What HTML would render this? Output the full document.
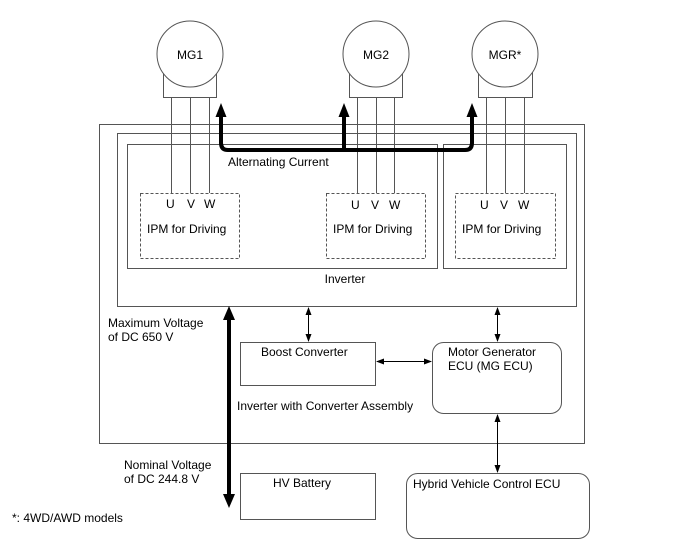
<!DOCTYPE html>
<html><head><meta charset="utf-8"><style>
html,body{margin:0;padding:0;background:#fff;}
svg{display:block;}
text{font-family:"Liberation Sans",Arial,sans-serif;font-size:12px;fill:#000;}
</style></head><body>
<svg width="688" height="560" viewBox="0 0 688 560" xmlns="http://www.w3.org/2000/svg">
<defs>
<marker id="a" markerWidth="8" markerHeight="8" refX="7" refY="4" orient="auto-start-reverse" markerUnits="userSpaceOnUse"><path d="M0,1 L8,4 L0,7 z" fill="#000"/></marker>
</defs>
<g fill="none" stroke="#555" stroke-width="1">
<!-- motors -->
<rect x="163.5" y="70.5" width="53" height="27" fill="#fff"/>
<circle cx="190" cy="54" r="33" fill="#fff"/>
<rect x="349.5" y="70.5" width="53" height="27" fill="#fff"/>
<circle cx="376" cy="54" r="33" fill="#fff"/>
<rect x="478.5" y="70.5" width="54" height="27" fill="#fff"/>
<circle cx="505" cy="54" r="33" fill="#fff"/>
<!-- boxes -->
<rect x="99.5" y="124.5" width="485" height="319"/>
<rect x="117.5" y="133.5" width="459" height="173"/>
<rect x="127.5" y="144.5" width="310" height="124"/>
<rect x="443.5" y="144.5" width="123" height="124"/>
<g stroke-dasharray="3,2">
<rect x="140.5" y="193.5" width="99" height="65"/>
<rect x="326.5" y="193.5" width="99" height="65"/>
<rect x="455.5" y="193.5" width="100" height="65"/>
</g>
<!-- wires -->
<path d="M171.5 97V193M190.5 97V193M209.5 97V193M357.5 97V193M376.5 97V193M394.5 97V193M486.5 97V193M505.5 97V193M524.5 97V193"/>
<rect x="240.5" y="342.5" width="135" height="43"/>
<rect x="432.5" y="342.5" width="129" height="71" rx="11"/>
<rect x="240.5" y="473.5" width="135" height="46"/>
<rect x="406.5" y="473.5" width="183" height="65" rx="11"/>
</g>
<!-- thin arrows -->
<g stroke="#000" stroke-width="1" fill="none">
<line x1="308.5" y1="308" x2="308.5" y2="341" marker-start="url(#a)" marker-end="url(#a)"/>
<line x1="497.5" y1="308" x2="497.5" y2="341" marker-start="url(#a)" marker-end="url(#a)"/>
<line x1="377" y1="361.5" x2="431" y2="361.5" marker-start="url(#a)" marker-end="url(#a)"/>
<line x1="497.5" y1="415" x2="497.5" y2="472" marker-start="url(#a)" marker-end="url(#a)"/>
</g>
<!-- thick AC arrows -->
<g stroke="#000" stroke-width="4" fill="none" stroke-linejoin="round">
<path d="M221 116V143Q221 150 228 150H465Q472 150 472 143V116"/>
<path d="M344 150V116"/>
<path d="M229 319V495"/>
</g>
<g fill="#000">
<path d="M215.5 117L221 103L226.5 117z"/>
<path d="M338.5 117L344 103L349.5 117z"/>
<path d="M466.5 117L472 103L477.5 117z"/>
<path d="M223 320L229 306L235 320z"/>
<path d="M223 494L229 508L235 494z"/>
</g>
<!-- labels -->
<text x="190" y="59" text-anchor="middle">MG1</text>
<text x="376" y="59" text-anchor="middle">MG2</text>
<text x="505" y="59" text-anchor="middle">MGR*</text>
<text x="228" y="166">Alternating Current</text>
<text x="166" y="208">U</text><text x="187" y="208">V</text><text x="204" y="208">W</text>
<text x="351" y="209">U</text><text x="371" y="209">V</text><text x="389" y="209">W</text>
<text x="480" y="209">U</text><text x="500" y="209">V</text><text x="518" y="209">W</text>
<text x="147" y="233">IPM for Driving</text>
<text x="333" y="233">IPM for Driving</text>
<text x="462" y="233">IPM for Driving</text>
<text x="345" y="283" text-anchor="middle">Inverter</text>
<text x="108" y="327">Maximum Voltage</text>
<text x="108" y="341">of DC 650 V</text>
<text x="261" y="356">Boost Converter</text>
<text x="448" y="356">Motor Generator</text>
<text x="448" y="370">ECU (MG ECU)</text>
<text x="237" y="410">Inverter with Converter Assembly</text>
<text x="124" y="469">Nominal Voltage</text>
<text x="124" y="483">of DC 244.8 V</text>
<text x="273" y="487">HV Battery</text>
<text x="413" y="488">Hybrid Vehicle Control ECU</text>
<text x="12" y="522">*: 4WD/AWD models</text>
</svg>
</body></html>
